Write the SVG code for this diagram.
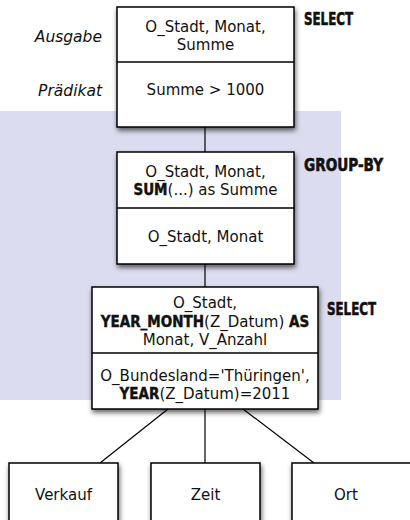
<svg xmlns="http://www.w3.org/2000/svg" width="410" height="520" viewBox="0 0 410 520">
  <style>
    .box { fill: #ffffff; stroke: #000000; stroke-width: 1.5; }
    .div { stroke: #000000; stroke-width: 1.3; }
    .edge { stroke: #000000; stroke-width: 1.2; fill: none; }
    .t { font-family: "DejaVu Sans", "Liberation Sans", sans-serif; font-size: 15px; fill: #111111; text-anchor: middle; }
    .k { font-family: "DejaVu Sans Condensed", "DejaVu Sans", sans-serif; font-weight: bold; font-stretch: condensed; stroke: #111111; stroke-width: 0.4; }
    .side { font-family: "DejaVu Sans", "Liberation Sans", sans-serif; font-size: 15.5px; font-style: italic; fill: #111111; text-anchor: end; }
    .op { font-family: "DejaVu Sans Condensed", "DejaVu Sans", sans-serif; font-weight: bold; font-stretch: condensed; font-size: 18px; fill: #111111; stroke: #111111; stroke-width: 0.6; }
  </style>
  <defs>
    <filter id="shadow" x="-20%" y="-20%" width="140%" height="150%">
      <feDropShadow dx="1" dy="3" stdDeviation="2.5" flood-color="#000000" flood-opacity="0.6"/>
    </filter>
  </defs>

  <!-- shaded area around the inner query -->
  <rect x="0" y="111" width="341" height="289" fill="#dcdcf0"/>

  <!-- connectors -->
  <g id="connectors">
    <line class="edge" x1="205" y1="127" x2="205" y2="152"/>
    <line class="edge" x1="205" y1="264" x2="205" y2="287"/>
    <line class="edge" x1="205" y1="409" x2="205" y2="463"/>
    <line class="edge" x1="168" y1="409" x2="100" y2="463"/>
    <line class="edge" x1="243" y1="409" x2="314" y2="463"/>
  </g>

  <!-- side labels -->
  <text class="side" x="102" y="42">Ausgabe</text>
  <text class="side" x="102" y="96">Prädikat</text>

  <!-- outer SELECT -->
  <g id="select-outer">
    <rect class="box" x="117" y="7" width="177" height="120" filter="url(#shadow)"/>
    <line class="div" x1="117" y1="62" x2="294" y2="62"/>
    <text class="t" x="205.5" y="32">O_Stadt, Monat,</text>
    <text class="t" x="205.5" y="50">Summe</text>
    <text class="t" x="205.5" y="95">Summe &gt; 1000</text>
    <text class="op" x="304" y="25" textLength="49" lengthAdjust="spacingAndGlyphs">SELECT</text>
  </g>

  <!-- GROUP-BY -->
  <g id="group-by">
    <rect class="box" x="117" y="152" width="177" height="112" filter="url(#shadow)"/>
    <line class="div" x1="117" y1="208" x2="294" y2="208"/>
    <text class="t" x="205.5" y="177">O_Stadt, Monat,</text>
    <text class="t" x="205.5" y="195"><tspan class="k">SUM</tspan>(...) as Summe</text>
    <text class="t" x="205.5" y="242">O_Stadt, Monat</text>
    <text class="op" x="304" y="171" textLength="79" lengthAdjust="spacingAndGlyphs">GROUP-BY</text>
  </g>

  <!-- inner SELECT -->
  <g id="select-inner">
    <rect class="box" x="92" y="287" width="226" height="122" filter="url(#shadow)"/>
    <line class="div" x1="92" y1="353" x2="318" y2="353"/>
    <text class="t" x="205" y="308">O_Stadt,</text>
    <text class="t" x="205" y="327"><tspan class="k">YEAR_MONTH</tspan>(Z_Datum) <tspan class="k">AS</tspan></text>
    <text class="t" x="205" y="345">Monat, V_Anzahl</text>
    <text class="t" x="205" y="381">O_Bundesland='Thüringen',</text>
    <text class="t" x="205" y="399"><tspan class="k">YEAR</tspan>(Z_Datum)=2011</text>
    <text class="op" x="327" y="315" textLength="49" lengthAdjust="spacingAndGlyphs">SELECT</text>
  </g>

  <!-- base tables -->
  <g id="verkauf">
    <rect class="box" x="9" y="463" width="109" height="70" filter="url(#shadow)"/>
    <text class="t" x="63.5" y="500">Verkauf</text>
  </g>
  <g id="zeit">
    <rect class="box" x="151" y="463" width="109" height="70" filter="url(#shadow)"/>
    <text class="t" x="205.5" y="500">Zeit</text>
  </g>
  <g id="ort">
    <rect class="box" x="292" y="463" width="130" height="70" filter="url(#shadow)"/>
    <text class="t" x="346" y="500">Ort</text>
  </g>
</svg>
